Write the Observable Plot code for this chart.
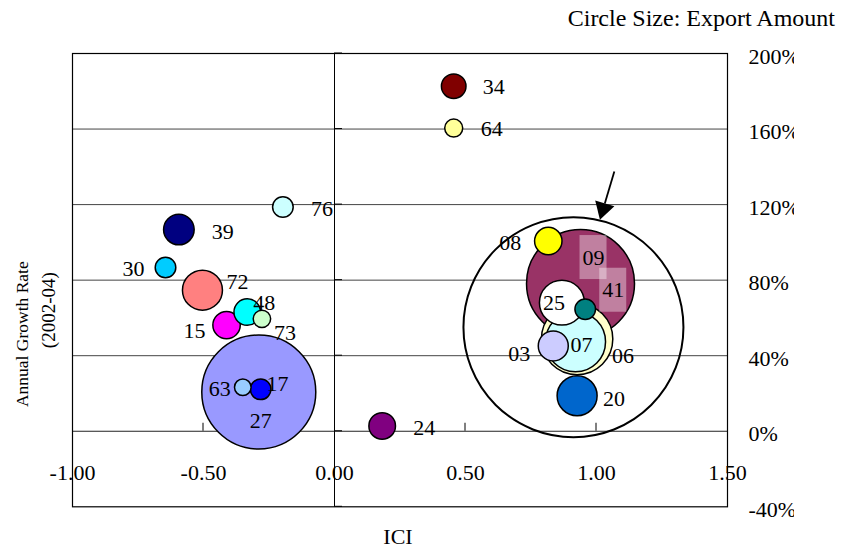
<!DOCTYPE html>
<html><head><meta charset="utf-8">
<script src="https://cdn.jsdelivr.net/npm/d3@7"></script>
<script src="https://cdn.jsdelivr.net/npm/@observablehq/plot@0.6"></script>
<style>
body{margin:0;background:#fff;}
#wrap{position:relative;width:842px;height:552px;font-family:"Liberation Serif","Times New Roman",serif;}
#title{position:absolute;right:7px;top:4px;font-size:24px;line-height:28px;color:#000;white-space:nowrap;}
#clip{position:absolute;left:794px;top:40px;width:48px;height:480px;background:#fff;}
</style></head><body>
<div id="wrap"><div id="chart"></div><div id="clip"></div><div id="title">Circle Size: Export Amount</div></div>
<script>
// ---- data ----
const codes        = ["34","64","76","39","30","72","48","73","15","27","63","17","24","08","09","25","41","06","07","03","20"];
const ici          = [0.455,0.455,-0.197,-0.594,-0.645,-0.504,-0.333,-0.277,-0.412,-0.289,-0.350,-0.282,0.182,0.816,0.939,0.868,0.957,0.926,0.920,0.835,0.926];
const growth       = [182.7,160.5,118.7,106.8,86.7,74.7,63.1,59.5,56.2,20.8,23.3,22.2,2.8,100.7,78.2,68.1,64.6,48.8,47.4,45.2,18.8];
const exportAmount = [151,81,106,234,106,400,177,76,188,3249,69,106,177,188,2916,506,106,1274,900,225,400];
const colors       = ["#800000","#FFFF99","#CCFFFF","#000080","#00CCFF","#FF8080","#00FFFF","#CCFFCC","#FF00FF","#9999FF","#99CCFF","#0000FF","#800080","#FFFF00","#993366","#FFFFFF","#008080","#FFFFCC","#CCFFFF","#CCCCFF","#0066CC"];
const xTicks = [-1, -0.5, 0, 0.5, 1, 1.5];
const yTicks = [-40, 0, 40, 80, 120, 160, 200];
const gridLevels = [40, 80, 120, 160];
const highlightGroup = {ici: 0.912, growth: 55.1, amount: 12100};   // encircled cluster
const arrowAnnotation = {x1: 1.070, y1: 137.2, x2: 1.015, y2: 111.7};
const boxedLabels = ["09", "41"];

// ---- label layout (pixel offsets) ----
const labelOffset = {
  "34":[40,1],"64":[38,1],"76":[39,2],"39":[44,2],"30":[-32,1],"72":[35,-8],"48":[17,-9],
  "73":[23,14],"15":[-32,6],"27":[2,29],"63":[-23,2],"17":[17,-5],"24":[42,2],"08":[-38,2],
  "09":[13,-26],"25":[-8,0],"41":[28,-19],"06":[46,17],"07":[6,3],"03":[-34,8],"20":[37,3]
};

const data = codes.map((c, i) => ({code: c, ici: ici[i], growth: growth[i], amount: exportAmount[i], color: colors[i]}));
const drawOrder = [...data].sort((a, b) => b.amount - a.amount);

const axisTicks = (index, scales) => {
  const g = d3.create("svg:g").attr("stroke", "#000").attr("stroke-width", 1);
  const x0 = scales.x(0), y0 = scales.y(0);
  for (const t of xTicks) {
    if (t === xTicks[0] || t === xTicks[xTicks.length - 1] || t === 0) continue;
    g.append("line").attr("x1", scales.x(t)).attr("x2", scales.x(t)).attr("y1", y0).attr("y2", y0 - 8);
  }
  for (const t of yTicks) {
    g.append("line").attr("x1", x0).attr("x2", x0 + 8).attr("y1", scales.y(t)).attr("y2", scales.y(t));
  }
  return g.node();
};

const labelBoxes = (index, scales) => {
  const g = d3.create("svg:g");
  for (const d of data.filter(d => boxedLabels.includes(d.code))) {
    const [dx, dy] = labelOffset[d.code];
    const cx = scales.x(d.ici) + dx, cy = scales.y(d.growth) + dy;
    g.append("rect").attr("x", cx - 13.5).attr("y", cy - 22).attr("width", 27).attr("height", 44)
      .attr("fill", "#fff").attr("fill-opacity", 0.38);
  }
  return g.node();
};

const arrowMark = (index, scales) => {
  const a = arrowAnnotation;
  const x1 = scales.x(a.x1), y1 = scales.y(a.y1), x2 = scales.x(a.x2), y2 = scales.y(a.y2);
  const len = Math.hypot(x2 - x1, y2 - y1), ux = (x2 - x1) / len, uy = (y2 - y1) / len;
  const hl = 17, hw = 10;
  const bx = x2 - ux * hl, by = y2 - uy * hl;
  const g = d3.create("svg:g");
  g.append("line").attr("x1", x1).attr("y1", y1).attr("x2", bx).attr("y2", by).attr("stroke", "#000").attr("stroke-width", 1.8);
  g.append("path").attr("d", `M${x2},${y2}L${bx - uy * hw},${by + ux * hw}L${bx + uy * hw},${by - ux * hw}Z`).attr("fill", "#000");
  return g.node();
};

const plot = Plot.plot({
  width: 842, height: 552,
  marginLeft: 72, marginRight: 115, marginTop: 53, marginBottom: 45.7,
  style: {fontFamily: '"Liberation Serif","Times New Roman",serif', fontSize: "22px", color: "#000", background: "#fff"},
  x: {domain: [-1, 1.5]},
  y: {domain: [-40, 200]},
  r: {type: "sqrt", domain: [0, highlightGroup.amount], range: [0, 110]},
  color: {type: "identity"},
  marks: [
    Plot.ruleY(gridLevels, {stroke: "#444", strokeWidth: 1}),
    Plot.ruleY([0], {stroke: "#222", strokeWidth: 1.2}),
    Plot.ruleX([0], {stroke: "#000", strokeWidth: 1}),
    Plot.frame({stroke: "#000", strokeWidth: 1.2}),
    axisTicks,
    Plot.axisX({ticks: xTicks, tickSize: 0, tickPadding: -42, tickFormat: d => d.toFixed(2), label: null}),
    Plot.axisY({anchor: "right", ticks: yTicks, tickSize: 0, tickPadding: 21, dy: 3, tickFormat: d => d + "%", label: null, textAnchor: "start"}),
    Plot.dot(drawOrder, {x: "ici", y: "growth", r: "amount", fill: "color", stroke: "#000", strokeWidth: 1.5, sort: null}),
    Plot.dot([highlightGroup], {x: "ici", y: "growth", r: "amount", fill: "none", stroke: "#000", strokeWidth: 2}),
    labelBoxes,
    ...data.map(d => Plot.text([d], {x: "ici", y: "growth", text: "code", dx: labelOffset[d.code][0], dy: labelOffset[d.code][1]})),
    arrowMark,
    Plot.text(["ICI"], {frameAnchor: "bottom", dx: -2, dy: 37}),
    Plot.text(["Annual Growth Rate"], {frameAnchor: "left", textAnchor: "middle", rotate: -90, dx: -50, dy: 54, fontSize: 17.5}),
    Plot.text(["(2002-04)"], {frameAnchor: "left", textAnchor: "middle", rotate: -90, dx: -24, dy: 30, fontSize: 19})
  ]
});
document.getElementById("chart").appendChild(plot);
</script>
</body></html>
